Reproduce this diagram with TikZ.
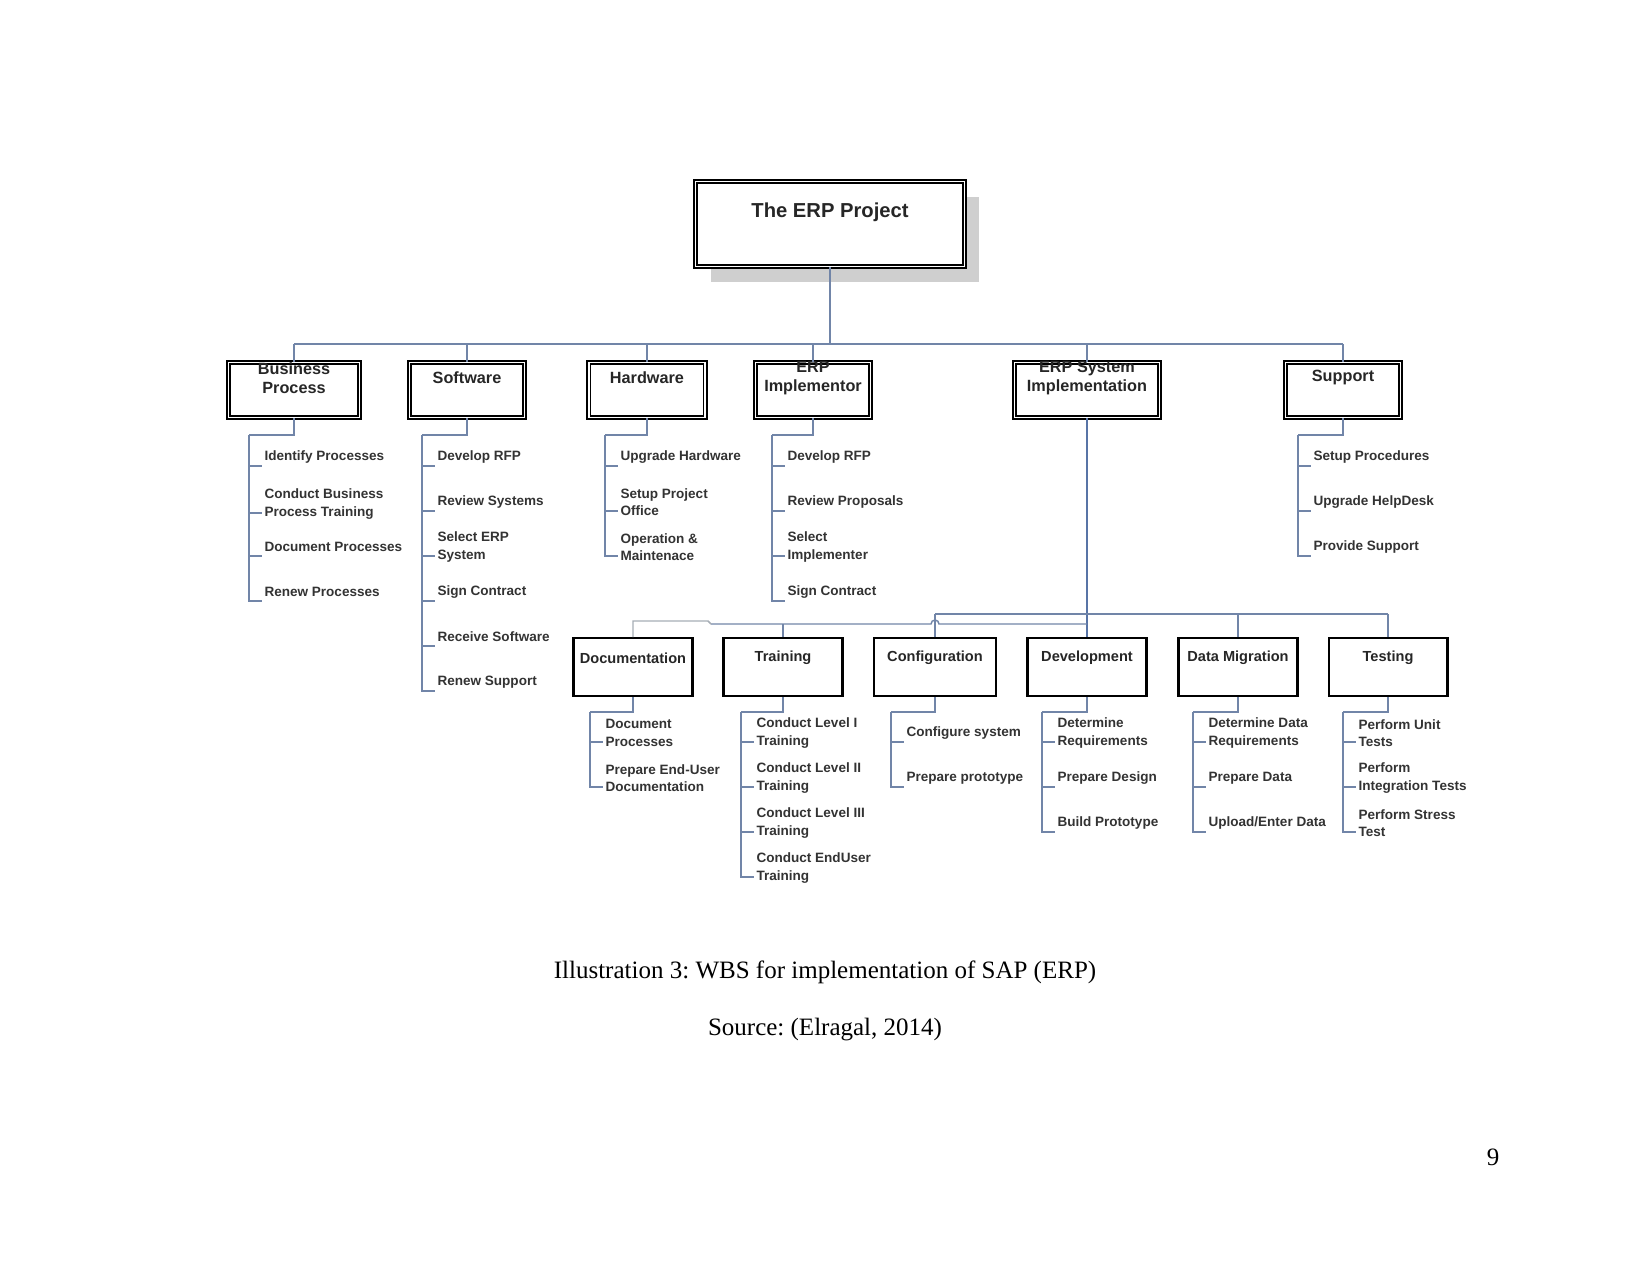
\documentclass[tikz,border=0pt]{standalone}
\usepackage{fontspec}
\setmainfont{Liberation Serif}
\newfontfamily\wbsfont{Liberation Sans}
\usetikzlibrary{calc, shadows}
\definecolor{wbsblue}{HTML}{7185A8}
\definecolor{wbsdeep}{HTML}{5874A6}
\definecolor{wbsgrey}{HTML}{A6ADB5}
\definecolor{shadowgrey}{HTML}{CFCFCF}
\frenchspacing

\begin{document}
\begin{tikzpicture}[x=0.48pt, y=-0.48pt,
  every node/.style={inner sep=1pt},
  topbox/.style ={draw, double, line width=0.75pt, double distance=0.9pt,
                  fill=white, minimum width=129.1pt, minimum height=40.8pt,
                  drop shadow={shadow xshift=7.2pt, shadow yshift=-7.4pt,
                               fill=shadowgrey, opacity=1}},
  lvone/.style  ={draw, double, line width=0.75pt, double distance=0.9pt,
                  minimum width=55.2pt, minimum height=26.4pt},
  lvtwo/.style  ={draw, line width=1pt, minimum width=57.1pt,
                  minimum height=27.8pt},
  toptxt/.style ={font=\wbsfont\bfseries\fontsize{9.7}{11}\selectfont, text=black!85},
  onetxt/.style ={align=center, text=black!85,
                  font=\wbsfont\bfseries\fontsize{7.8}{9.1}\selectfont},
  twotxt/.style ={align=center, text=black!85,
                  font=\wbsfont\bfseries\fontsize{7}{8.4}\selectfont},
  leaf/.style   ={anchor=west, align=left, text=black!80,
                  font=\wbsfont\bfseries\fontsize{6.5}{8.4}\selectfont},
  bus/.style    ={draw=wbsblue, line width=0.7pt},
  tick/.style   ={draw=wbsblue, line width=0.6pt},
  caption/.style={font=\fontsize{12}{14}\selectfont}
]
\useasboundingbox (0,0) rectangle (1650,1275);

%% --- root and first level ---------------------------------------------
\node[topbox] (top) at (830,224) {};
\node[toptxt] (top_t) at (830,212) {The ERP Project};

\node[lvone, minimum width=62.9pt] (bp)  at (294,390) {};
\node[lvone]                       (sw)  at (467,390) {};
\node[lvone, minimum width=55.7pt] (hw)  at (647,390) {};
\node[lvone]                       (ei)  at (813,390) {};
\node[lvone, minimum width=69.6pt] (esi) at (1087,390) {};
\node[lvone]                       (su)  at (1343,390) {};

\node[onetxt] (bp_t)  at (294,378)  {Business\\Process};
\node[onetxt] (sw_t)  at (467,378)  {Software};
\node[onetxt] (hw_t)  at (647,378)  {Hardware};
\node[onetxt] (ei_t)  at (813,378)  {ERP\\Implementor};
\node[onetxt] (esi_t) at (1087,378) {ERP System\\Implementation};
\node[onetxt] (su_t)  at (1343,378) {Support};

\coordinate (lv1bus) at (0,344);
\draw[bus] (top.south) -- (top.south |- lv1bus);
\draw[bus] (bp.north |- lv1bus) -- (su.north |- lv1bus);
\foreach \b in {bp,sw,hw,ei,esi,su}
  \draw[bus] (\b.north) -- (\b.north |- lv1bus);

%% --- first level work packages -----------------------------------------
\coordinate (bp_sp) at (249,435);
\node[leaf] (bp1) at (262,457) {Identify Processes};
\node[leaf] (bp2) at (262,504) {Conduct Business\\Process Training};
\node[leaf] (bp3) at (262,547) {Document Processes};
\node[leaf] (bp4) at (262,592) {Renew Processes};

\coordinate (sw_sp) at (422,435);
\node[leaf] (sw1) at (435,457) {Develop RFP};
\node[leaf] (sw2) at (435,502) {Review Systems};
\node[leaf] (sw3) at (435,547) {Select ERP\\System};
\node[leaf] (sw4) at (435,592) {Sign Contract};
\node[leaf] (sw5) at (435,637) {Receive Software};
\node[leaf] (sw6) at (435,682) {Renew Support};

\coordinate (hw_sp) at (605,435);
\node[leaf] (hw1) at (618,457) {Upgrade Hardware};
\node[leaf] (hw2) at (618,502) {Setup Project\\Office};
\node[leaf] (hw3) at (618,547) {Operation \&\\Maintenace};

\coordinate (ei_sp) at (772,435);
\node[leaf] (ei1) at (785,457) {Develop RFP};
\node[leaf] (ei2) at (785,502) {Review Proposals};
\node[leaf] (ei3) at (785,547) {Select\\Implementer};
\node[leaf] (ei4) at (785,592) {Sign Contract};

\coordinate (su_sp) at (1298,435);
\node[leaf] (su1) at (1311,457) {Setup Procedures};
\node[leaf] (su2) at (1311,502) {Upgrade HelpDesk};
\node[leaf] (su3) at (1311,547) {Provide Support};

\foreach \b in {bp,sw,hw,ei,su}
  \draw[tick] (\b.south) |- (\b_sp);
\foreach \s/\l in {bp/bp1, bp/bp2, bp/bp3, bp/bp4,
                   sw/sw1, sw/sw2, sw/sw3, sw/sw4, sw/sw5, sw/sw6,
                   hw/hw1, hw/hw2, hw/hw3,
                   ei/ei1, ei/ei2, ei/ei3, ei/ei4,
                   su/su1, su/su2, su/su3}
  \draw[tick] (\s_sp) |- ($(\l.west)+(0,9)$);

%% --- second level (ERP system implementation) --------------------------
\node[lvtwo]                       (doc) at (633,667)  {};
\node[lvtwo]                       (trn) at (783,667)  {};
\node[lvtwo, minimum width=58.6pt] (cfg) at (935,667)  {};
\node[lvtwo]                       (dev) at (1087,667) {};
\node[lvtwo]                       (dmg) at (1238,667) {};
\node[lvtwo]                       (tst) at (1388,667) {};

\node[twotxt] (doc_t) at (633,658)  {Documentation};
\node[twotxt] (trn_t) at (783,658)  {Training};
\node[twotxt] (cfg_t) at (935,658)  {Configuration};
\node[twotxt] (dev_t) at (1087,658) {Development};
\node[twotxt] (dmg_t) at (1238,658) {Data Migration};
\node[twotxt] (tst_t) at (1388,658) {Testing};

\coordinate (lv2up) at (0,614);
\coordinate (lv2lo) at (0,624);
\coordinate (docjog) at (708,621);
\coordinate (lojog) at (711,624);
\draw[bus, draw=wbsdeep] (esi.south) -- (dev.north);
\draw[bus] (cfg.north |- lv2up) -- (tst.north |- lv2up);
\foreach \b in {cfg,dmg,tst}
  \draw[bus] (\b.north) -- (\b.north |- lv2up);
\draw[bus] (dev.north |- lv2lo) -- ($(cfg.north |- lv2lo)+(4,0)$)
  arc[start angle=0, end angle=-180, radius=4] -- (lojog);
\draw[bus] (trn.north) -- (trn.north |- lv2lo);
\draw[bus, draw=wbsgrey] (doc.north) |- (docjog) -- (lojog);

%% --- second level work packages ----------------------------------------
\coordinate (doc_sp) at (590,712);
\node[leaf] (doc1) at (603,733) {Document\\Processes};
\node[leaf] (doc2) at (603,778) {Prepare End-User\\Documentation};

\coordinate (trn_sp) at (741,712);
\node[leaf] (trn1) at (754,733) {Conduct Level I\\Training};
\node[leaf] (trn2) at (754,778) {Conduct Level II\\Training};
\node[leaf] (trn3) at (754,823) {Conduct Level III\\Training};
\node[leaf] (trn4) at (754,868) {Conduct EndUser\\Training};

\coordinate (cfg_sp) at (891,712);
\node[leaf] (cfg1) at (904,733) {Configure system};
\node[leaf] (cfg2) at (904,778) {Prepare prototype};

\coordinate (dev_sp) at (1042,712);
\node[leaf] (dev1) at (1055,733) {Determine\\Requirements};
\node[leaf] (dev2) at (1055,778) {Prepare Design};
\node[leaf] (dev3) at (1055,823) {Build Prototype};

\coordinate (dmg_sp) at (1193,712);
\node[leaf] (dmg1) at (1206,733) {Determine Data\\Requirements};
\node[leaf] (dmg2) at (1206,778) {Prepare Data};
\node[leaf] (dmg3) at (1206,823) {Upload/Enter Data};

\coordinate (tst_sp) at (1343,712);
\node[leaf] (tst1) at (1356,733) {Perform Unit\\Tests};
\node[leaf] (tst2) at (1356,778) {Perform\\Integration Tests};
\node[leaf] (tst3) at (1356,823) {Perform Stress\\Test};

\foreach \b in {doc,trn,cfg,dev,dmg,tst}
  \draw[tick] (\b.south) |- (\b_sp);
\foreach \s/\l in {doc/doc1, doc/doc2,
                   trn/trn1, trn/trn2, trn/trn3, trn/trn4,
                   cfg/cfg1, cfg/cfg2,
                   dev/dev1, dev/dev2, dev/dev3,
                   dmg/dmg1, dmg/dmg2, dmg/dmg3,
                   tst/tst1, tst/tst2, tst/tst3}
  \draw[tick] (\s_sp) |- ($(\l.west)+(0,9)$);

%% --- caption -----------------------------------------------------------
\node[caption] (cap)  at (825,972)   {Illustration 3: WBS for implementation of SAP (ERP)};
\node[caption] (src)  at (825,1030)  {Source: (Elragal, 2014)};
\node[caption] (pgno) at (1493,1157) {9};

\end{tikzpicture}
\end{document}
